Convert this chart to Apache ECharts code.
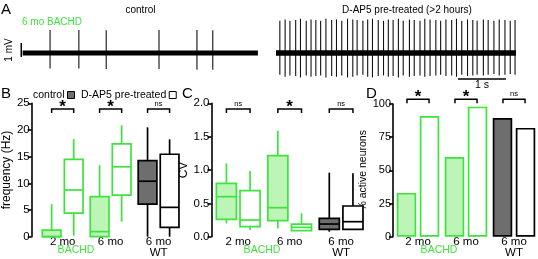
<!DOCTYPE html>
<html><head><meta charset="utf-8">
<script src="https://cdn.jsdelivr.net/npm/echarts@6/dist/echarts.min.js"></script>
<style>html,body{margin:0;padding:0;background:#fff}#c{width:538px;height:259px}</style>
</head><body><div id="c"></div>
<script>
// ---------- DATA ----------
const groups = ['2 mo', '6 mo', '6 mo\nWT'];

// Panel A: spike times (s) and spike extremes (mV)
const ctrlDuration = 4.9;
const ctrlSpikeTimes = [0.57, 1.17, 1.74, 2.84, 3.63, 3.96];
const ctrlSpikeTop = [1.64, 1.64, 1.62, 1.64, 1.64, 1.62];
const ctrlSpikeBottom = [-1.1, -1.1, -1.15, -1.15, -1.2, -1.2];

const dapDuration = 5.0;
const dapSpikeTimes = [0.08, 0.19, 0.29, 0.41, 0.51, 0.63, 0.73, 0.83, 0.93, 1.04, 1.16, 1.26, 1.37, 1.49, 1.60, 1.69,
  1.81, 1.91, 2.01, 2.13, 2.24, 2.34, 2.44, 2.55, 2.65, 2.78, 2.88, 3.00, 3.10, 3.21, 3.33, 3.43, 3.54, 3.66, 3.76,
  3.87, 3.99, 4.10, 4.19, 4.32, 4.42, 4.54, 4.65, 4.77, 4.88, 4.98];
const dapSpikeTop = [2.3, 2.4, 2.3, 2.35, 2.45, 2.3, 2.4, 2.35, 2.3, 2.45, 2.35, 2.4, 2.3, 2.45, 2.4, 2.35, 2.3, 2.4,
  2.45, 2.35, 2.3, 2.4, 2.35, 2.45, 2.3, 2.4, 2.35, 2.3, 2.45, 2.4, 2.35, 2.3, 2.4, 2.35, 2.45, 2.3, 2.4, 2.35, 2.3,
  2.4, 2.35, 2.3, 2.4, 2.35, 2.3, 2.35];
const dapSpikeBottom = [-1.55, -1.7, -1.6, -1.65, -1.75, -1.6, -1.7, -1.65, -1.6, -1.75, -1.65, -1.7, -1.6, -1.75,
  -1.7, -1.6, -1.55, -1.7, -1.75, -1.65, -1.6, -1.7, -1.65, -1.75, -1.6, -1.7, -1.65, -1.6, -1.7, -1.65, -1.6, -1.55,
  -1.65, -1.6, -1.7, -1.55, -1.65, -1.6, -1.55, -1.6, -1.55, -1.5, -1.6, -1.55, -1.5, -1.55];
const mvBar = [-0.29, 0.71];   // 1 mV scale bar
const sBar = [3.79, 4.79];     // 1 s scale bar
const sBarLevel = -1.86;

// Panel B: frequency (Hz) [min, q1, median, q3, max]
const freqCtrl = [[0, 0, 0, 1.25, 6.1], [0, 0, 0.95, 7.5, 13.4], [0, 6.1, 10.4, 14.25, 20.5]];
const freqDap = [[0.2, 4.4, 8.75, 14.5, 18.3], [2.8, 7.8, 13.1, 17.4, 20.9], [0, 1.75, 5.5, 15.45, 18.25]];
const freqSig = ['*', '*', 'ns'];

// Panel C: CV
const cvCtrl = [[0.2, 0.26, 0.6, 0.8, 1.1], [0.125, 0.24, 0.435, 1.215, 1.59], [0.075, 0.11, 0.19, 0.275, 0.96]];
const cvDap = [[0.1, 0.15, 0.25, 0.69, 0.985], [0.09, 0.09, 0.14, 0.19, 0.35], [0.11, 0.11, 0.225, 0.46, 0.95]];
const cvSig = ['ns', '*', 'ns'];

// Panel D: % active neurons
const activeCtrl = [33, 60, 89.5];
const activeDap = [91, 98, 82];
const activeSig = ['*', '*', 'ns'];

// ---------- STYLE ----------
const FONT = 'Liberation Sans, Arial, sans-serif';
const GREEN = '#3ee43e';
const LGREEN = '#bdf5b6';
const GRAY = '#6e6e6e';
const ctrlFill = [LGREEN, LGREEN, GRAY];
const dapFill = ['#fff', '#fff', '#fff'];
const stroke = [GREEN, GREEN, '#000'];
const PAIR_OFFSET = 0.23, BOX_HALF = 0.195;

const chart = echarts.init(document.getElementById('c'), null, {renderer: 'canvas'});

function spikeRender(params, api) {
  const p1 = api.coord([api.value(0), api.value(1)]);
  const p2 = api.coord([api.value(0), api.value(2)]);
  return {type: 'line', shape: {x1: p1[0], y1: p1[1], x2: p2[0], y2: p2[1]},
    style: {stroke: '#111', lineWidth: 1.1}};
}
function makeBoxRender(side, fills) {
  return function (params, api) {
    const cat = api.value(0);
    const band = api.size([1, 0])[0];
    const cx = api.coord([cat, 0])[0] + side * band * PAIR_OFFSET;
    const hw = band * BOX_HALF;
    const y = [1, 2, 3, 4, 5].map(i => api.coord([cat, api.value(i)])[1]);
    const s = stroke[cat], lw = 1.7;
    return {type: 'group', children: [
      {type: 'line', shape: {x1: cx, y1: y[0], x2: cx, y2: y[1]}, style: {stroke: s, lineWidth: lw}},
      {type: 'line', shape: {x1: cx, y1: y[3], x2: cx, y2: y[4]}, style: {stroke: s, lineWidth: lw}},
      {type: 'rect', shape: {x: cx - hw, y: y[3], width: 2 * hw, height: y[1] - y[3]},
        style: {fill: fills[cat], stroke: s, lineWidth: lw}},
      {type: 'line', shape: {x1: cx - hw, y1: y[2], x2: cx + hw, y2: y[2]}, style: {stroke: s, lineWidth: lw}}
    ]};
  };
}
function makeSigRender(labels, topVal, dy) {
  return function (params, api) {
    const cat = api.value(0);
    const band = api.size([1, 0])[0];
    const c = api.coord([cat, topVal]);
    const x0 = c[0] - band * PAIR_OFFSET, x1 = c[0] + band * PAIR_OFFSET, y = c[1] + dy;
    const lab = labels[params.dataIndex];
    const star = lab === '*';
    return {type: 'group', children: [
      {type: 'polyline', shape: {points: [[x0, y + 4], [x0, y], [x1, y], [x1, y + 4]]},
        style: {stroke: '#000', lineWidth: 1.5, fill: null}},
      {type: 'text', x: c[0], y: star ? y + 7 : y - 1.5,
        style: {text: lab, font: (star ? 'bold 17px ' : '7.5px ') + FONT, fill: '#000',
          align: 'center', verticalAlign: 'bottom'}}
    ]};
  };
}
function boxData(arr) { return arr.map((v, i) => [i].concat(v)); }
function catIdx() { return groups.map((g, i) => [i, 0]); }

const catAxis = (gi) => ({
  type: 'category', gridIndex: gi, data: groups, boundaryGap: true,
  axisLine: {show: false}, axisTick: {show: false},
  axisLabel: {color: '#000', fontSize: 11.5, fontFamily: FONT, margin: 0, lineHeight: 10.5}
});
const valAxis = (gi, min, max, interval, name, nameGap, offset, nameSize, labelSize, fmt) => ({
  type: 'value', gridIndex: gi, min, max, interval, offset,
  name, nameLocation: 'middle', nameGap,
  nameTextStyle: {color: '#000', fontSize: nameSize, fontFamily: FONT},
  splitLine: {show: false},
  axisLine: {show: true, lineStyle: {color: '#000', width: 1.6}},
  axisTick: {show: true, length: 4, lineStyle: {color: '#000', width: 1.6}},
  axisLabel: {color: '#000', fontSize: labelSize, fontFamily: FONT, margin: 2, formatter: fmt}
});

const option = {
  animation: false,
  backgroundColor: '#fff',
  textStyle: {fontFamily: FONT},
  grid: [
    {left: 20.3, top: 11, width: 237.6, height: 77},
    {left: 276, top: 11, width: 240, height: 77},
    {left: 28.8, top: 103.3, width: 153.75, height: 133.4},
    {left: 212.5, top: 103.3, width: 154.35, height: 133.4},
    {left: 394, top: 104, width: 146.25, height: 132.7}
  ],
  xAxis: [
    {type: 'value', gridIndex: 0, min: -0.05, max: ctrlDuration, show: false},
    {type: 'value', gridIndex: 1, min: 0, max: dapDuration, show: false},
    catAxis(2), catAxis(3), catAxis(4)
  ],
  yAxis: [
    {type: 'value', gridIndex: 0, min: -2.5, max: 3, show: false},
    {type: 'value', gridIndex: 1, min: -2.5, max: 3, show: false},
    valAxis(2, 0, 25, 5, 'frequency (Hz)', 8, 7, 12, 11.5),
    valAxis(3, 0, 2, 0.5, 'CV', 17, 1, 12, 11.5, v => v.toFixed(1)),
    valAxis(4, 0, 100, 25, '% active neurons', 18, 1, 10.5, 11)
  ],
  legend: {
    left: 33, top: 89.5, padding: 0, align: 'right', itemWidth: 7, itemHeight: 7, itemGap: 6,
    selectedMode: false, textStyle: {fontSize: 10.5, color: '#000', fontFamily: FONT, padding: [0, -2, 0, 0]},
    data: [
      {name: 'control', icon: 'rect', itemStyle: {color: GRAY, borderColor: '#000', borderWidth: 1}},
      {name: 'D-AP5 pre-treated', icon: 'rect', itemStyle: {color: '#fff', borderColor: '#000', borderWidth: 1}}
    ]
  },
  series: [
    // A traces
    {type: 'line', xAxisIndex: 0, yAxisIndex: 0, data: [[0, 0], [ctrlDuration, 0]], symbol: 'none',
      lineStyle: {color: '#000', width: 5}, silent: true},
    {type: 'custom', xAxisIndex: 0, yAxisIndex: 0, renderItem: spikeRender, clip: false,
      data: ctrlSpikeTimes.map((t, i) => [t, ctrlSpikeTop[i], ctrlSpikeBottom[i]])},
    {type: 'line', xAxisIndex: 0, yAxisIndex: 0, data: [[-0.03, mvBar[0]], [-0.03, mvBar[1]]], symbol: 'none',
      lineStyle: {color: '#000', width: 1.5}},
    {type: 'line', xAxisIndex: 1, yAxisIndex: 1, data: [[0, 0], [dapDuration, 0]], symbol: 'none',
      lineStyle: {color: '#000', width: 5.5}},
    {type: 'custom', xAxisIndex: 1, yAxisIndex: 1, renderItem: spikeRender, clip: false,
      data: dapSpikeTimes.map((t, i) => [t, dapSpikeTop[i], dapSpikeBottom[i]])},
    {type: 'line', xAxisIndex: 1, yAxisIndex: 1, data: [[sBar[0], sBarLevel], [sBar[1], sBarLevel]], symbol: 'none',
      lineStyle: {color: '#000', width: 1.5}},
    // B
    {name: 'control', type: 'custom', xAxisIndex: 2, yAxisIndex: 2, renderItem: makeBoxRender(-1, ctrlFill),
      encode: {x: 0, y: [1, 2, 3, 4, 5]}, data: boxData(freqCtrl)},
    {name: 'D-AP5 pre-treated', type: 'custom', xAxisIndex: 2, yAxisIndex: 2, renderItem: makeBoxRender(1, dapFill),
      encode: {x: 0, y: [1, 2, 3, 4, 5]}, data: boxData(freqDap)},
    {type: 'custom', xAxisIndex: 2, yAxisIndex: 2, renderItem: makeSigRender(freqSig, 25, 5.7), clip: false,
      data: catIdx()},
    // C
    {type: 'custom', xAxisIndex: 3, yAxisIndex: 3, renderItem: makeBoxRender(-1, ctrlFill),
      encode: {x: 0, y: [1, 2, 3, 4, 5]}, data: boxData(cvCtrl)},
    {type: 'custom', xAxisIndex: 3, yAxisIndex: 3, renderItem: makeBoxRender(1, dapFill),
      encode: {x: 0, y: [1, 2, 3, 4, 5]}, data: boxData(cvDap)},
    {type: 'custom', xAxisIndex: 3, yAxisIndex: 3, renderItem: makeSigRender(cvSig, 2, 5.7), clip: false,
      data: catIdx()},
    // D
    {type: 'bar', xAxisIndex: 4, yAxisIndex: 4, barWidth: 19.5, barGap: '18%',
      data: activeCtrl.map((v, i) => ({value: v, itemStyle: {color: ctrlFill[i], borderColor: stroke[i], borderWidth: 1.7}}))},
    {type: 'bar', xAxisIndex: 4, yAxisIndex: 4, barWidth: 19.5,
      data: activeDap.map((v, i) => ({value: v, itemStyle: {color: dapFill[i], borderColor: stroke[i], borderWidth: 1.7}}))},
    {type: 'custom', xAxisIndex: 4, yAxisIndex: 4, renderItem: makeSigRender(activeSig, 100, -4.7), clip: false,
      data: catIdx()}
  ],
  graphic: [
    {type: 'text', left: 1, top: 2, style: {text: 'A', font: '15px ' + FONT, fill: '#000'}},
    {type: 'text', left: 1, top: 86, style: {text: 'B', font: '15px ' + FONT, fill: '#000'}},
    {type: 'text', left: 182, top: 86, style: {text: 'C', font: '15px ' + FONT, fill: '#000'}},
    {type: 'text', left: 366, top: 86, style: {text: 'D', font: '15px ' + FONT, fill: '#000'}},
    {type: 'text', x: 140.5, y: 10.7, style: {text: 'control', font: '10px ' + FONT, fill: '#000', align: 'center', verticalAlign: 'middle'}},
    {type: 'text', x: 22, y: 22.7, style: {text: '6 mo BACHD', font: '10px ' + FONT, fill: GREEN, align: 'left', verticalAlign: 'middle'}},
    {type: 'text', x: 407, y: 10.7, style: {text: 'D-AP5 pre-treated (>2 hours)', font: '10px ' + FONT, fill: '#000', align: 'center', verticalAlign: 'middle'}},
    {type: 'text', x: 9.7, y: 50, rotation: Math.PI / 2, style: {text: '1 mV', font: '10px ' + FONT, fill: '#000', align: 'center', verticalAlign: 'middle'}},
    {type: 'text', x: 482, y: 85, style: {text: '1 s', font: '10.5px ' + FONT, fill: '#000', align: 'center', verticalAlign: 'middle'}},
    {type: 'text', x: 76, y: 250.5, style: {text: 'BACHD', font: '10.5px ' + FONT, fill: GREEN, align: 'center', verticalAlign: 'middle'}},
    {type: 'text', x: 262, y: 250.5, style: {text: 'BACHD', font: '10.5px ' + FONT, fill: GREEN, align: 'center', verticalAlign: 'middle'}},
    {type: 'text', x: 439, y: 250.5, style: {text: 'BACHD', font: '10.5px ' + FONT, fill: GREEN, align: 'center', verticalAlign: 'middle'}}
  ]
};
chart.setOption(option);
</script>
</body></html>
